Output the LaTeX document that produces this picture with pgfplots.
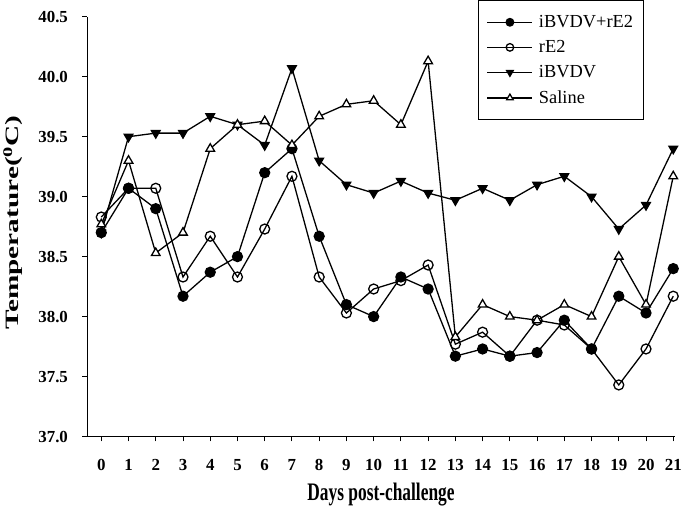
\documentclass[border=0pt]{standalone}
\usepackage{pgfplots}
\pgfplotsset{compat=1.18}
\usepackage{fontspec}
\setmainfont{Liberation Serif}

\begin{document}
\begin{tikzpicture}
\begin{axis}[
  scale only axis,
  width=589bp, height=421bp,
  xmin=-0.51, xmax=21.05,
  ymin=37, ymax=40.5,
  axis x line=bottom, axis y line=left,
  axis line style={line width=1.2pt, -},
  tick align=outside,
  major tick length=5bp,
  tick style={line width=1pt, black},
  xtick={0,1,...,21},
  ytick={37,37.5,...,40.5},
  /pgf/number format/assume math mode=true,
  ticklabel style={font=\bfseries\fontsize{17}{17}\selectfont},
  xticklabel style={yshift=-14bp},
  yticklabel style={/pgf/number format/fixed, /pgf/number format/fixed zerofill,
    /pgf/number format/precision=1, xshift=-11bp},
  xlabel={\scalebox{1}[1.45]{\bfseries Days post-challenge}},
  ylabel={\scalebox{1.55}[1]{\bfseries Temperature(\textsuperscript{0}C)}},
  xlabel style={font=\fontsize{17.5}{17.5}\selectfont, at={(axis description cs:0.5,-0.138)}, anchor=center},
  ylabel style={font=\fontsize{19}{19}\selectfont, at={(axis description cs:-0.127,0.51)}, anchor=center},
  every axis plot/.append style={line width=1.3pt, black, mark size=5bp},
  legend style={at={(0.947,1.04)}, anchor=north east, draw=black, line width=1pt,
    font=\fontsize{18.5}{21}\selectfont, inner xsep=8bp, inner ysep=13bp,
    row sep=7.5bp},
  legend cell align=left,
  legend image code/.code={\draw[mark repeat=2, mark phase=2, mark size=3.8bp, #1]
    plot coordinates {(0bp,0bp)(22.5bp,0bp)(45bp,0bp)};
    \path (49bp,0bp);},
]
\addplot[mark=*, mark options={fill=black}] coordinates {
(0,38.70) (1,39.07) (2,38.90) (3,38.17) (4,38.37) (5,38.50) (6,39.20) (7,39.40)
(8,38.67) (9,38.10) (10,38.00) (11,38.33) (12,38.23) (13,37.67) (14,37.73)
(15,37.67) (16,37.70) (17,37.97) (18,37.73) (19,38.17) (20,38.03) (21,38.40)};
\addlegendentry{iBVDV+rE2}
\addplot[mark=o, mark options={fill=white}] coordinates {
(0,38.83) (1,39.07) (2,39.07) (3,38.33) (4,38.67) (5,38.33) (6,38.73) (7,39.17)
(8,38.33) (9,38.03) (10,38.23) (11,38.30) (12,38.43) (13,37.77) (14,37.87)
(15,37.67) (16,37.97) (17,37.93) (18,37.73) (19,37.43) (20,37.73) (21,38.17)};
\addlegendentry{rE2}
\addplot[mark=triangle*, mark options={fill=black, rotate=180}] coordinates {
(0,38.70) (1,39.50) (2,39.53) (3,39.53) (4,39.67) (5,39.60) (6,39.43) (7,40.07)
(8,39.30) (9,39.10) (10,39.03) (11,39.13) (12,39.03) (13,38.97) (14,39.07)
(15,38.97) (16,39.10) (17,39.17) (18,39.00) (19,38.73) (20,38.93) (21,39.40)};
\addlegendentry{iBVDV}
\addplot[mark=triangle*, mark options={fill=white}] coordinates {
(0,38.77) (1,39.30) (2,38.53) (3,38.70) (4,39.40) (5,39.60) (6,39.63) (7,39.43)
(8,39.67) (9,39.77) (10,39.80) (11,39.60) (12,40.13) (13,37.83) (14,38.10)
(15,38.00) (16,37.97) (17,38.10) (18,38.00) (19,38.50) (20,38.10) (21,39.17)};
\addlegendentry{Saline}
\end{axis}
\end{tikzpicture}
\end{document}
